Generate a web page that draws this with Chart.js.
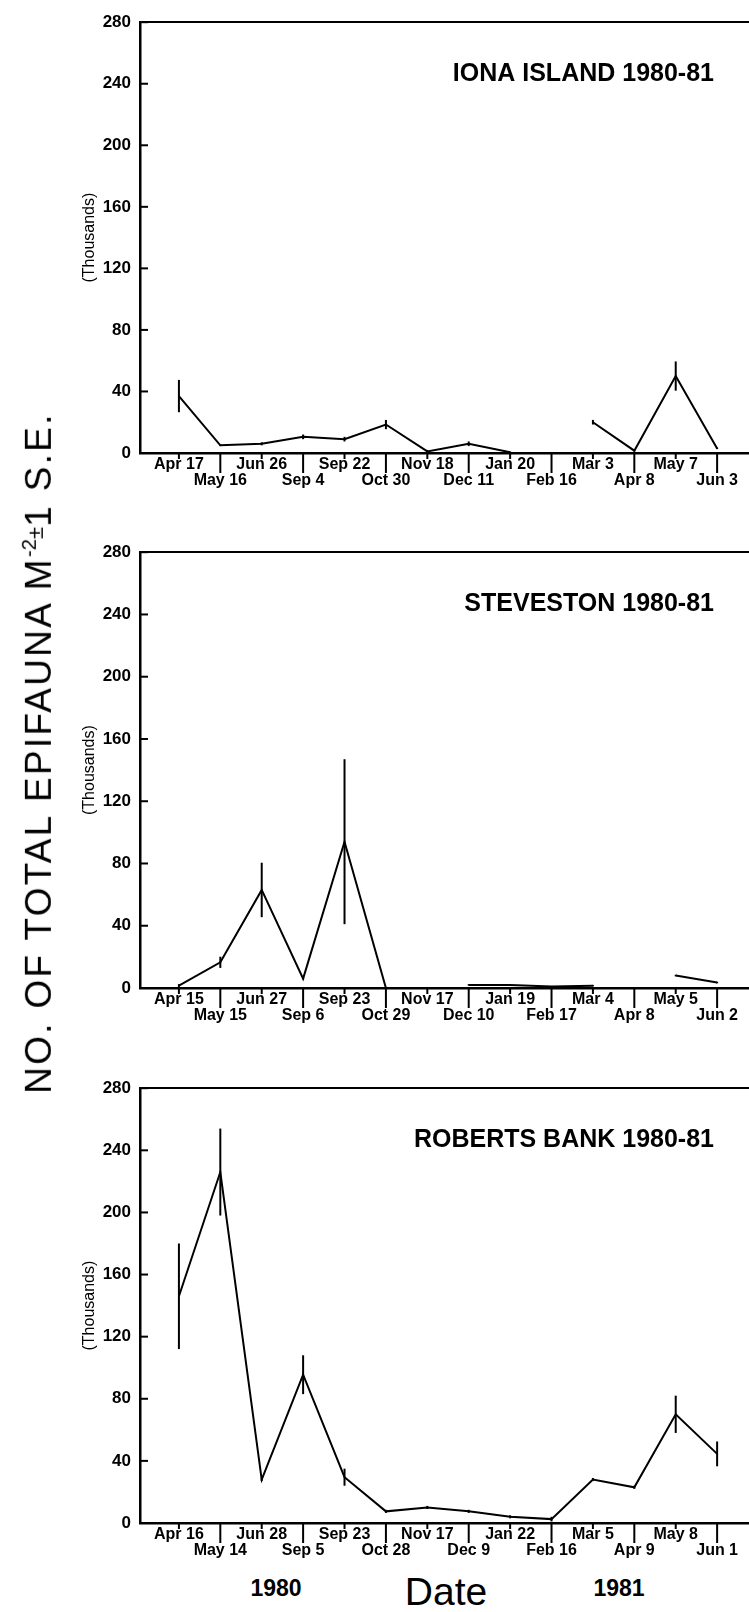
<!DOCTYPE html>
<html>
<head>
<meta charset="utf-8">
<script src="https://cdn.jsdelivr.net/npm/chart.js@4.4.0/dist/chart.umd.min.js"></script>
<style>
  html, body { margin: 0; padding: 0; background: #fff; }
  body { width: 749px; height: 1612px; position: relative; overflow: hidden; font-family: "Liberation Sans", Arial, sans-serif; color: #000; }
  .panel { position: absolute; left: 0; }
  .ylab { position: absolute; left: 38px; top: 753px; transform: translate(-50%, -50%) rotate(-90deg); white-space: nowrap; font-size: 37px; letter-spacing: 2.3px; line-height: 1; }
  .ylab sup { font-size: 0.55em; vertical-align: 0.75em; letter-spacing: 0; }
  .ylab .pm { font-size: 0.6em; vertical-align: 0.35em; letter-spacing: 0; }
  .yr { position: absolute; top: 1577px; font-size: 23px; font-weight: bold; line-height: 23px; transform: translateX(-50%); }
  .date { position: absolute; top: 1572px; left: 446px; font-size: 39px; line-height: 39px; transform: translateX(-50%); }
</style>
</head>
<body>
<canvas id="c1" class="panel" style="top:3px" width="749" height="495"></canvas>
<canvas id="c2" class="panel" style="top:533px" width="749" height="500"></canvas>
<canvas id="c3" class="panel" style="top:1069px" width="749" height="499"></canvas>

<div class="ylab">NO. OF TOTAL EPIFAUNA M<sup>-2</sup><span class="pm">±</span>1 S.E.</div>
<div class="yr" style="left:276px">1980</div>
<div class="date">Date</div>
<div class="yr" style="left:619px">1981</div>

<script>
// sampling dates and values (thousands per m2)
const ionaDates = ["Apr 17", "May 16", "Jun 26", "Sep 4", "Sep 22", "Oct 30", "Nov 18", "Dec 11", "Jan 20", "Feb 16", "Mar 3", "Apr 8", "May 7", "Jun 3"];
const ionaMean = [37, 5, 6, 10.5, 9, 18.5, 1, 6, 0.5, null, 20, 1.5, 50, 3];
const ionaSE = [10.5, 0.5, 1, 1.5, 1.5, 3, 1, 1.5, 0.5, null, 1.5, 0.5, 9.5, 0.5];

const stevDates = ["Apr 15", "May 15", "Jun 27", "Sep 6", "Sep 23", "Oct 29", "Nov 17", "Dec 10", "Jan 19", "Feb 17", "Mar 4", "Apr 8", "May 5", "Jun 2"];
const stevMean = [1.5, 16.5, 63, 6, 94, 0, null, 2, 2, 1, 1.5, null, 8, 3.5];
const stevSE = [1, 3.6, 17.5, 0.5, 53, 0, null, 0.5, 0.5, 0, 0.5, null, 0.5, 0.5];

const robDates = ["Apr 16", "May 14", "Jun 28", "Sep 5", "Sep 23", "Oct 28", "Nov 17", "Dec 9", "Jan 22", "Feb 16", "Mar 5", "Apr 9", "May 8", "Jun 1"];
const robMean = [146, 226, 28, 95.5, 29.5, 7.5, 10, 7.5, 4, 2.5, 28, 23, 70, 44.5];
const robSE = [34, 28, 1, 12.5, 5.5, 1, 1, 1, 1, 1.5, 1, 1, 12, 8];

const yTicks = [0, 40, 80, 120, 160, 200, 240, 280];

// error bars, inward tick marks and the station name
function decor(mean, se, title) {
    return {
        id: 'decor',
        afterDatasetsDraw(chart) {
            const { ctx, chartArea, scales: { x, y } } = chart;
            ctx.save();
            ctx.strokeStyle = '#000';
            ctx.lineWidth = 2;
            mean.forEach((v, i) => {
                if (v === null || !se[i]) return;
                const px = x.getPixelForValue(i);
                ctx.beginPath();
                ctx.moveTo(px, y.getPixelForValue(Math.max(v - se[i], 0)));
                ctx.lineTo(px, y.getPixelForValue(v + se[i]));
                ctx.stroke();
            });
            y.ticks.forEach(t => {
                const py = y.getPixelForValue(t.value);
                ctx.beginPath();
                ctx.moveTo(chartArea.left, py);
                ctx.lineTo(chartArea.left + 8, py);
                ctx.stroke();
            });
            x.ticks.forEach((t, i) => {
                const px = x.getPixelForValue(t.value);
                ctx.beginPath();
                ctx.moveTo(px, chartArea.bottom);
                ctx.lineTo(px, chartArea.bottom + (i % 2 ? 20 : 6));
                ctx.stroke();
            });
            ctx.fillStyle = '#000';
            ctx.font = 'bold 25px "Liberation Sans", Arial, sans-serif';
            ctx.textAlign = 'right';
            ctx.textBaseline = 'alphabetic';
            ctx.fillText(title, chartArea.right - 35, chartArea.top + 59);
            ctx.restore();
        }
    };
}

function makePanel(id, dates, mean, se, title) {
    const ctx = document.getElementById(id).getContext("2d");
    return new Chart(ctx, {
        type: 'line',
        data: {
            datasets: [{
                data: mean.map((v, i) => ({ x: i, y: v })),
                borderColor: '#000',
                borderWidth: 2,
                pointRadius: 0,
                tension: 0,
                spanGaps: false
            }]
        },
        options: {
            responsive: false,
            animation: false,
            layout: { padding: { top: 15, left: 0, right: 0, bottom: 0 } },
            plugins: { legend: { display: false }, tooltip: { enabled: false } },
            scales: {
                x: {
                    type: 'linear',
                    min: -0.94,
                    max: 13.77,
                    afterBuildTicks: scale => { scale.ticks = dates.map((d, i) => ({ value: i })); },
                    afterFit: scale => { scale.height = 45; },
                    grid: { display: false, drawTicks: false },
                    border: { display: true, color: '#000', width: 2.5 },
                    ticks: {
                        autoSkip: false,
                        maxRotation: 0,
                        minRotation: 0,
                        padding: 4,
                        color: '#000',
                        font: { family: '"Liberation Sans", Arial, sans-serif', size: 16, weight: 'bold', lineHeight: 1 },
                        callback: (value, index) => index % 2 === 0 ? [dates[index], ''] : ['', dates[index]]
                    }
                },
                y: {
                    min: 0,
                    max: 280,
                    afterBuildTicks: scale => { scale.ticks = yTicks.map(v => ({ value: v })); },
                    afterFit: scale => { scale.width = 140; },
                    grid: {
                        drawTicks: false,
                        color: c => c.tick && c.tick.value === 280 ? '#000' : 'rgba(0,0,0,0)',
                        lineWidth: 2
                    },
                    border: { display: true, color: '#000', width: 2.5 },
                    ticks: {
                        padding: 9,
                        color: '#000',
                        font: { family: '"Liberation Sans", Arial, sans-serif', size: 17, weight: 'bold' }
                    },
                    title: {
                        display: true,
                        text: '(Thousands)',
                        color: '#000',
                        padding: { top: 80, bottom: 0 },
                        font: { family: '"Liberation Sans", Arial, sans-serif', size: 16 }
                    }
                }
            }
        },
        plugins: [decor(mean, se, title)]
    });
}

makePanel("c1", ionaDates, ionaMean, ionaSE, "IONA ISLAND 1980-81");
makePanel("c2", stevDates, stevMean, stevSE, "STEVESTON 1980-81");
makePanel("c3", robDates, robMean, robSE, "ROBERTS BANK 1980-81");
</script>
</body>
</html>
